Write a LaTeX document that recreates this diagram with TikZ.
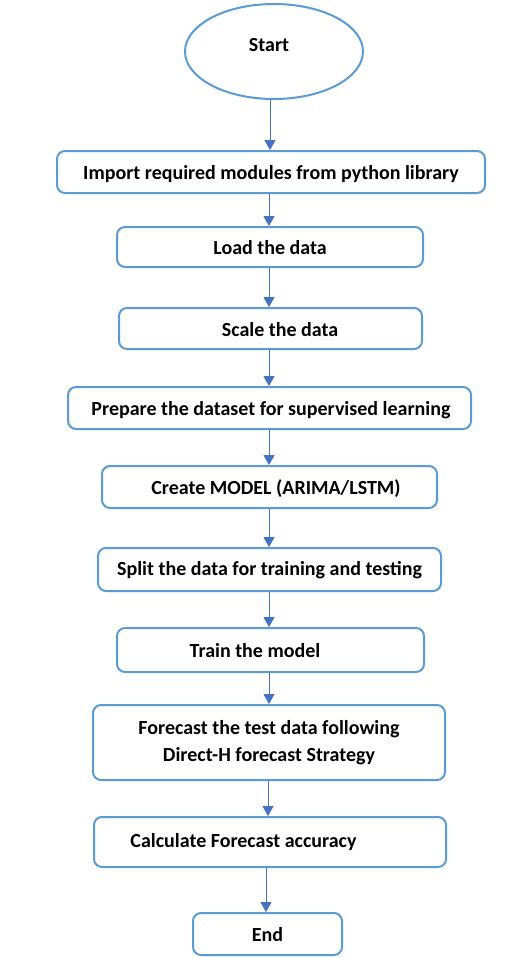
\documentclass[tikz,border=0pt]{standalone}
\usepackage{fontspec}
\setmainfont{Carlito}
\usetikzlibrary{arrows.meta,shapes.geometric}
\definecolor{boxblue}{HTML}{5B9BD5}
\definecolor{arrblue}{HTML}{4472C4}
\begin{document}
\begin{tikzpicture}[x=1pt,y=-1pt,
  txt/.style={font=\fontsize{20}{27}\selectfont\bfseries, text=black},
  box/.style={draw=boxblue, line width=2pt, rounded corners=8pt, fill=white,
    inner sep=0pt, align=center, txt},
  oneline/.style={text height=17pt, text depth=2pt},
  startshape/.style={ellipse, draw=boxblue, line width=2pt, fill=white, inner sep=0pt},
  arr/.style={draw=arrblue, line width=1pt, -{Triangle[width=11pt,length=10pt]}}]
\fill[white] (0,0) rectangle (517,958);
\useasboundingbox (0,0) rectangle (517,958);

\node[startshape, minimum width=178pt, minimum height=95pt,
  label={[txt, xshift=-5pt, yshift=6.5pt]center:Start}] (s) at (274,51.5) {};

\node[box, oneline, minimum width=428pt, minimum height=42pt] (n1) at (271,172)
  {Import required modules from python library};
\node[box, oneline, minimum width=306pt, minimum height=40pt] (n2) at (270,247)
  {Load the data};
\node[box, oneline, minimum width=303pt, minimum height=41pt] (n3) at (270.5,328.5)
  {\hspace*{19pt}Scale the data};
\node[box, oneline, minimum width=403pt, minimum height=42pt] (n4) at (269.5,408)
  {\hspace*{3pt}Prepare the dataset for supervised learning};
\node[box, oneline, minimum width=335pt, minimum height=42pt] (n5) at (269.5,487)
  {\hspace*{13pt}Create MODEL (ARIMA/LSTM)};
\node[box, text height=15pt, text depth=4pt, minimum width=343pt, minimum height=43pt] (n6) at (269.5,569.5)
  {Split the data for training and testing};
\node[box, oneline, minimum width=307pt, minimum height=44pt] (n7) at (270.5,650)
  {Train the model\hspace*{31pt}};
\node[box, minimum width=352pt, minimum height=75pt] (n8) at (269,742.5)
  {Forecast the test data following\\Direct-H forecast Strategy};
\node[box, minimum width=352pt, minimum height=50pt] (n9) at (270,842)
  {Calculate Forecast accuracy\hspace*{53pt}};
\node[box, oneline, minimum width=149pt, minimum height=42pt] (n10) at (267.5,934)
  {End};

\coordinate (xa) at (270,0);
\coordinate (xb) at (269,0);
\coordinate (xc) at (268,0);
\coordinate (xd) at (266,0);

\draw[arr] (s.south -| xa) -- (n1.north -| xa);
\draw[arr] (n1.south -| xb) -- (n2.north -| xb);
\draw[arr] (n2.south -| xb) -- (n3.north -| xb);
\draw[arr] (n3.south -| xb) -- (n4.north -| xb);
\draw[arr] (n4.south -| xb) -- (n5.north -| xb);
\draw[arr] (n5.south -| xb) -- (n6.north -| xb);
\draw[arr] (n6.south -| xb) -- (n7.north -| xb);
\draw[arr] (n7.south -| xb) -- (n8.north -| xb);
\draw[arr] (n8.south -| xc) -- (n9.north -| xc);
\draw[arr] (n9.south -| xd) -- (n10.north -| xd);
\end{tikzpicture}
\end{document}
